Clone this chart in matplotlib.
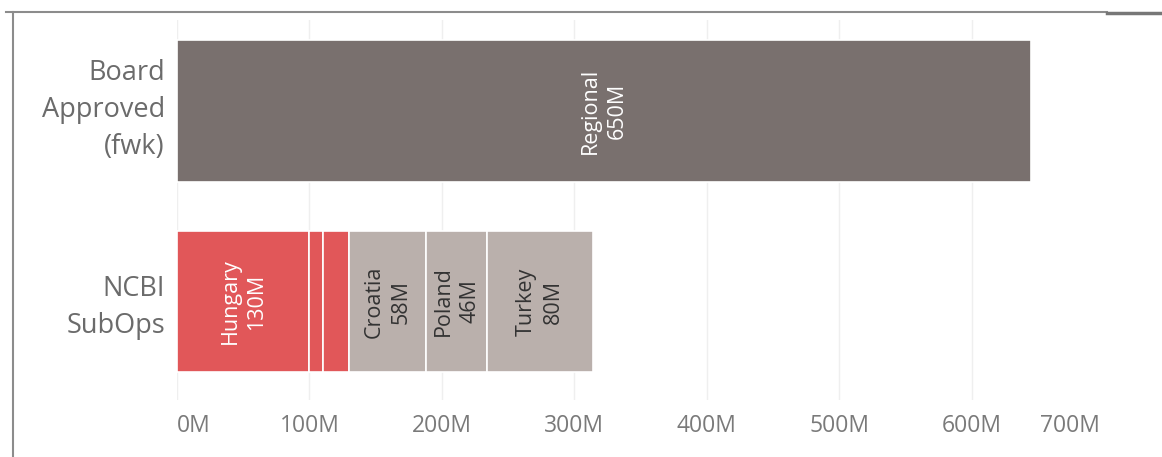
import matplotlib
matplotlib.use("Agg")
import matplotlib.pyplot as plt
import matplotlib.transforms as mtransforms
from matplotlib.lines import Line2D

plt.rcParams['font.family'] = ['Open Sans', 'DejaVu Sans']

categories = ['Board\nApproved\n(fwk)', 'NCBI\nSubOps']

# stacked segments per row: (category index, value in M, label or None, colour key)
seg_row = [0, 1, 1, 1, 1, 1, 1]
seg_value = [645, 100, 10, 20, 58, 46, 80]
seg_label = ['Regional\n650M', 'Hungary\n130M', None, None, 'Croatia\n58M', 'Poland\n46M', 'Turkey\n80M']
seg_kind = ['regional', 'hungary', 'hungary', 'hungary', 'other', 'other', 'other']

tick_values = [0, 100, 200, 300, 400, 500, 600, 697]
tick_labels = ['0M', '100M', '200M', '300M', '400M', '500M', '600M', '700M']

colors = {'regional': '#79706e', 'hungary': '#e15759', 'other': '#bab0ac'}
text_colors = {'regional': 'white', 'hungary': 'white', 'other': '#333333'}

fig = plt.figure(figsize=(11.62, 4.57), dpi=100)
ax = fig.add_axes([177 / 1162, 1 - 400 / 457, (1100 - 177) / 1162, (400 - 20) / 457])

lefts = [0.0, 0.0]
for row, val, lab, kind in zip(seg_row, seg_value, seg_label, seg_kind):
    ax.barh(row, val, left=lefts[row], height=0.745, color=colors[kind],
            edgecolor='white', linewidth=1.2, zorder=3)
    if lab:
        ax.text(lefts[row] + val / 2, row, lab, rotation=90, ha='center', va='center',
                color=text_colors[kind], fontsize=15.5, linespacing=1.35, zorder=4)
    lefts[row] += val

ax.set_xlim(0, 697)
ax.set_ylim(1.517, -0.478)

# category labels drawn as text so each can be nudged like the original
ylab_shift = [1, -6]
trans = mtransforms.blended_transform_factory(ax.transAxes, ax.transData)
for i, cat in enumerate(categories):
    t = mtransforms.offset_copy(trans, fig=fig, x=-12, y=ylab_shift[i], units='dots')
    ax.text(0, i, cat, transform=t, ha='right', va='center', fontsize=19.5,
            color='#6b6b6b', linespacing=1.45)
ax.set_yticks([])

ax.set_xticks(tick_values)
ax.set_xticklabels(tick_labels, fontsize=16.5, color='#7a7a7a')
ax.tick_params(length=0, pad=10)
xl = ax.get_xticklabels()
xl[0].set_horizontalalignment('left')
xl[-1].set_horizontalalignment('right')

ax.grid(axis='x', color='#efefef', linewidth=1, zorder=0)
ax.get_xgridlines()[-1].set_visible(False)
for s in ax.spines.values():
    s.set_visible(False)

# dashboard frame lines
fig.add_artist(Line2D([6 / 1162, 1107 / 1162], [1 - 12 / 457] * 2, color='#8c8c8c', lw=1.5))
fig.add_artist(Line2D([1107 / 1162, 1], [1 - 13 / 457] * 2, color='#777777', lw=2.5))
fig.add_artist(Line2D([13 / 1162] * 2, [0, 1 - 12 / 457], color='#8c8c8c', lw=1.5))

fig.savefig('out.png', dpi=100)
